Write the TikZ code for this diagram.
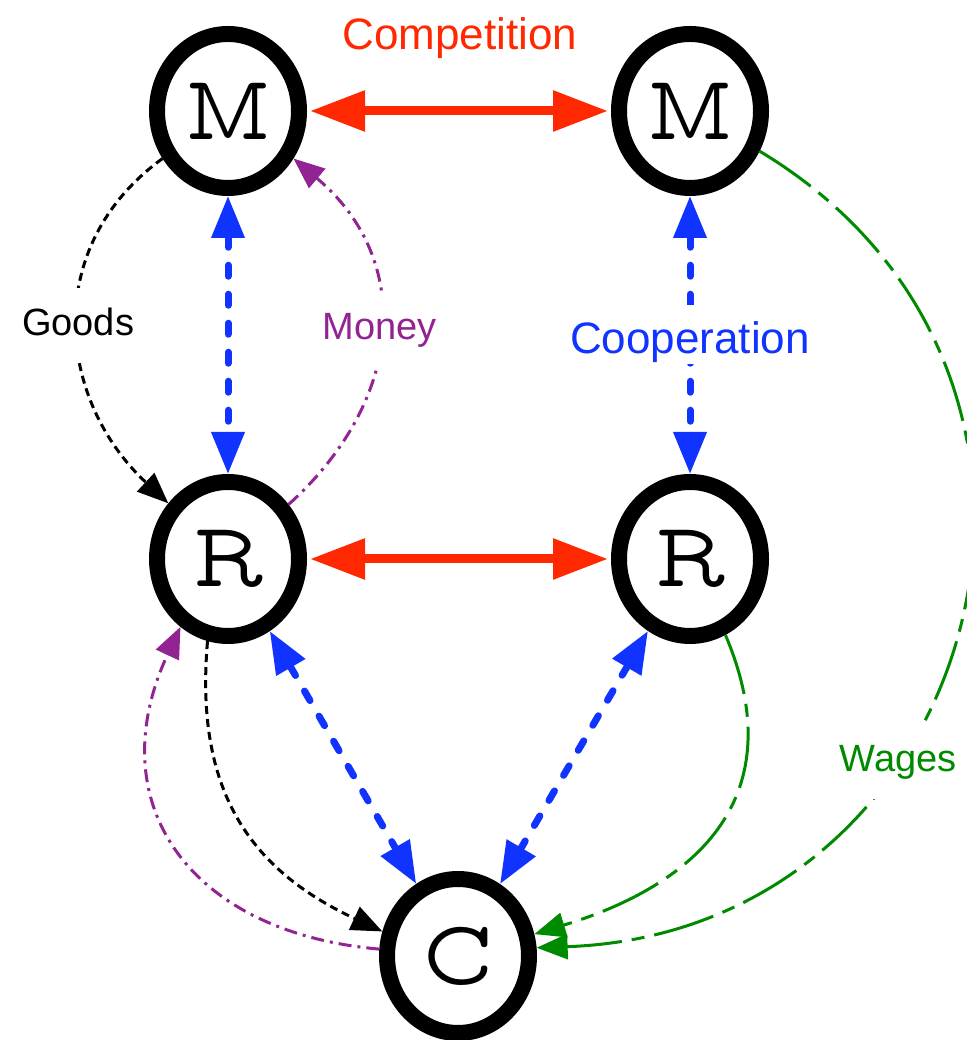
\documentclass[tikz,border=0pt]{standalone}
\usepackage{fontspec}
\newfontfamily\labelfont{Liberation Sans}
\newfontfamily\letterfont{lmmonoprop10-regular.otf}
\usetikzlibrary{arrows.meta,shapes.geometric}
\definecolor{compred}{RGB}{255,40,0}
\definecolor{coopblue}{RGB}{17,51,255}
\definecolor{moneypurple}{RGB}{146,35,146}
\definecolor{wagegreen}{RGB}{0,138,0}
\begin{document}
\begin{tikzpicture}[x=1pt,y=1pt,
  agent/.style={draw,ellipse,line width=16pt,minimum width=142pt,minimum height=154pt,inner sep=0pt,font=\letterfont\fontsize{92}{100}\selectfont},
  compete/.style={compred,line width=9pt,{Triangle[length=55pt,width=39pt]}-{Triangle[length=55pt,width=39pt]},shorten <=3pt,shorten >=3pt},
  cooperate/.style={coopblue,line width=7pt,dash pattern=on 11pt off 18pt,line cap=round,{Triangle[length=42pt,width=32pt]}-{Triangle[length=42pt,width=32pt]}},
  flow/.style={line width=3pt,-{Triangle[length=31pt,width=25pt]}},
  goods/.style={flow,black,dash pattern=on 8pt off 5pt},
  money/.style={flow,moneypurple,dash pattern=on 13pt off 6pt on 3pt off 6pt},
  wages/.style={flow,wagegreen,dash pattern=on 62pt off 10pt on 13pt off 10pt},
  lbl/.style={fill=white,font=\labelfont\fontsize{38}{44}\selectfont,inner xsep=4pt,inner ysep=20pt,text height=27pt,text depth=8pt},
  biglbl/.style={font=\labelfont\fontsize{44}{52}\selectfont}]
\useasboundingbox (0,0) rectangle (966,1040);
\node[agent] (m1) at (228,929) {M};
\node[agent] (m2) at (690,929) {M};
\node[agent] (r1) at (228,481) {R};
\node[agent] (r2) at (690,481) {R};
\node[agent] (c) at (458,84) {C};
\node[biglbl,text=compred,anchor=base] (competition) at (460,990) {Competition};
\draw[compete] (m1) -- (m2);
\draw[compete] (r1) -- (r2);
\draw[cooperate] (m1) -- (r1);
\draw[cooperate] (m2) -- node[biglbl,fill=white,inner xsep=4pt,inner ysep=3pt,text height=45pt,text depth=8pt] {Cooperation} (r2);
\draw[cooperate] (r1) -- (c);
\draw[cooperate] (r2) -- (c);
\draw[goods] (m1.216) to[out=216,in=137,looseness=1.12] node[lbl] {Goods} (r1.137);
\draw[money] (r1.42) to[out=42,in=320,looseness=1.16] node[lbl] {Money} (m1.324);
\draw[goods] (r1.256) to[out=265,in=155,looseness=1.12] (c.162);
\draw[money] (c.175) to[out=175,in=245,looseness=1.3] (r1.235);
\draw[wages] (r2.295) to[out=293,in=17,looseness=1.25] (c.16);
\draw[wages] (m2.330) to[out=-31,in=2,out distance=440pt,in distance=445pt] node[lbl,pos=.64,xshift=5pt] {Wages} (c.6);
\end{tikzpicture}
\end{document}
